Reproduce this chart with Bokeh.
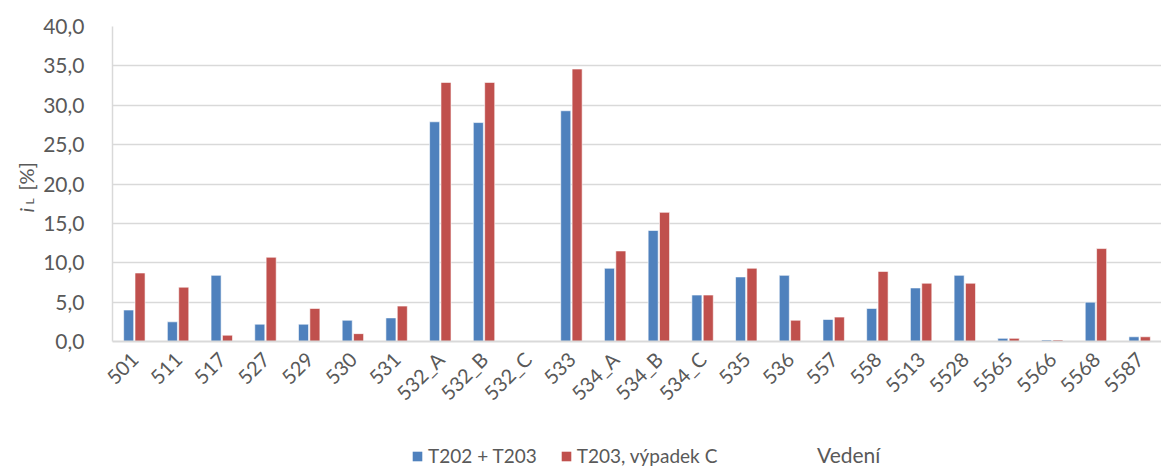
import math
from bokeh.plotting import figure
from bokeh.layouts import column, row
from bokeh.models import (ColumnDataSource, FactorRange, FixedTicker, Legend, LegendItem, Label)
from bokeh.transform import dodge
from bokeh.embed import file_html
from bokeh.resources import INLINE

categories = ["501", "511", "517", "527", "529", "530", "531", "532_A", "532_B", "532_C",
              "533", "534_A", "534_B", "534_C", "535", "536", "557", "558", "5513", "5528",
              "5565", "5566", "5568", "5587"]
t202_t203 = [4.0, 2.5, 8.4, 2.2, 2.2, 2.7, 3.0, 27.9, 27.8, 0.0,
             29.3, 9.3, 14.1, 5.9, 8.2, 8.4, 2.8, 4.2, 6.8, 8.4,
             0.4, 0.2, 5.0, 0.6]
t203_vypadek_c = [8.7, 6.9, 0.8, 10.7, 4.2, 1.0, 4.5, 32.9, 32.9, 0.0,
                  34.6, 11.5, 16.4, 5.9, 9.3, 2.7, 3.1, 8.9, 7.4, 7.4,
                  0.4, 0.2, 11.8, 0.6]
series_names = ["T202 + T203", "T203, výpadek C"]
y_ticks = [0, 5, 10, 15, 20, 25, 30, 35, 40]
y_tick_labels = ["0,0", "5,0", "10,0", "15,0", "20,0", "25,0", "30,0", "35,0", "40,0"]
x_title = "Vedení"

FONT = "Lato"
TXT = "#595959"
BLUE = "#4F81BD"
RED = "#C0504D"

W, H = 1161, 468
YLAB_W = 40
MAIN_H = 438

src = ColumnDataSource(dict(cat=categories, a=t202_t203, b=t203_vypadek_c))
xr = FactorRange(*categories, range_padding=0)

# ---------------- main chart ----------------
p = figure(width=W - YLAB_W, height=MAIN_H, x_range=xr,
           y_range=(0, 40), output_backend="svg", toolbar_location=None,
           min_border_left=108 - YLAB_W, min_border_right=0, min_border_top=26,
           min_border_bottom=MAIN_H - 341)
p.outline_line_color = None

p.vbar(x=dodge("cat", -0.13, range=xr), top="a", width=0.23, source=src,
       fill_color=BLUE, line_color="white", line_alpha=0.6, line_width=1)
p.vbar(x=dodge("cat", 0.13, range=xr), top="b", width=0.23, source=src,
       fill_color=RED, line_color="white", line_alpha=0.6, line_width=1)

p.yaxis.ticker = FixedTicker(ticks=y_ticks)
p.yaxis.major_label_overrides = {t: l for t, l in zip(y_ticks, y_tick_labels)}
p.yaxis.major_label_text_font = FONT
p.yaxis.major_label_text_font_size = "21px"
p.yaxis.major_label_text_color = TXT
p.yaxis.major_tick_line_color = None
p.yaxis.minor_tick_line_color = None
p.yaxis.axis_line_color = "#D9D9D9"
p.yaxis.axis_line_width = 1.5
p.yaxis.major_label_standoff = 22

p.xaxis.major_label_orientation = math.pi / 4
p.xaxis.major_label_text_font = FONT
p.xaxis.major_label_text_font_size = "20px"
p.xaxis.major_label_text_color = TXT
p.xaxis.major_tick_line_color = None
p.xaxis.axis_line_color = "#D9D9D9"
p.xaxis.axis_line_width = 2
p.xaxis.major_label_standoff = 8

p.xgrid.grid_line_color = None
p.ygrid.grid_line_color = "#D9D9D9"
p.ygrid.grid_line_width = 1.5

# ---------------- y-axis title strip (frame aligned with main frame) ----------------
py = figure(width=YLAB_W, height=MAIN_H, x_range=(0, YLAB_W), y_range=(0, MAIN_H),
            output_backend="svg", toolbar_location=None, x_axis_type=None, y_axis_type=None,
            min_border=0)
py.outline_line_color = None
py.grid.visible = False
py.add_layout(Label(x=25, y=129, x_units="screen", y_units="screen", text="i",
                    angle=math.pi / 2, text_baseline="alphabetic",
                    text_font=FONT, text_font_size="20px", text_font_style="italic", text_color=TXT))
py.add_layout(Label(x=29, y=137, x_units="screen", y_units="screen", text="L",
                    angle=math.pi / 2, text_baseline="alphabetic",
                    text_font=FONT, text_font_size="12px", text_color=TXT))
py.add_layout(Label(x=25, y=151, x_units="screen", y_units="screen", text="[%]",
                    angle=math.pi / 2, text_baseline="alphabetic",
                    text_font=FONT, text_font_size="20px", text_color=TXT))

# ---------------- legend / x title strip ----------------
# same series drawn here with a y range that hides them; they only feed the legends
pb = figure(width=W, height=H - MAIN_H, x_range=xr, y_range=(1000, 1030),
            output_backend="svg", toolbar_location=None, x_axis_type=None, y_axis_type=None,
            min_border=0)
pb.outline_line_color = None
pb.grid.visible = False
lb1 = pb.vbar(x="cat", top="a", width=0.23, source=src, fill_color=BLUE, line_color=None)
lb2 = pb.vbar(x="cat", top="b", width=0.23, source=src, fill_color=RED, line_color=None)
lb3 = pb.vbar(x="cat", top="b", width=0.23, source=src, fill_color="white", fill_alpha=0,
              line_color="white", line_alpha=0)

legend = Legend(items=[LegendItem(label=series_names[0], renderers=[lb1]),
                       LegendItem(label=series_names[1], renderers=[lb2])],
                orientation="horizontal", location=(411, 1),
                label_text_font=FONT, label_text_font_size="19px", label_text_color=TXT,
                glyph_width=12, glyph_height=12, spacing=23, label_standoff=5,
                background_fill_alpha=0, border_line_color=None, padding=0, margin=0)
pb.add_layout(legend, "center")
legend2 = Legend(items=[LegendItem(label=x_title, renderers=[lb3])],
                 orientation="horizontal", location=(815, 1),
                 label_text_font=FONT, label_text_font_size="21px", label_text_color=TXT,
                 glyph_width=1, glyph_height=1, label_standoff=1,
                 background_fill_alpha=0, border_line_color=None, padding=0, margin=0)
pb.add_layout(legend2, "center")

layout = column(row(py, p), pb)
open("out.html", "w").write(file_html(layout, INLINE))
